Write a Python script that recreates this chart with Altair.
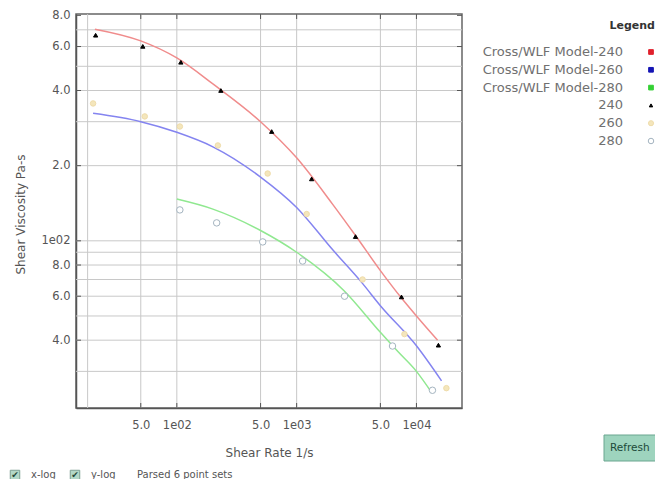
import altair as alt
import pandas as pd

# ---------------- data ----------------
series_names = ["Cross/WLF Model-240", "Cross/WLF Model-260", "Cross/WLF Model-280", "240", "260", "280"]
model_names = series_names[:3]

# measured points (shear rate 1/s, viscosity Pa-s)
rate_240 = [21, 52, 108, 233, 619, 1334, 3100, 7500, 15250]
visc_240 = [666, 601, 519, 400, 274, 177, 104, 59.6, 38.2]
rate_260 = [20, 54, 106, 220, 573, 1212, 3550, 7940, 17780]
visc_260 = [355, 315, 287, 241, 186, 128, 70, 42.3, 25.7]
rate_280 = [106, 215, 521, 1122, 2512, 6310, 13600]
visc_280 = [133, 118, 99, 83, 60, 37.9, 25.2]

# fitted Cross/WLF model curves
model_rate_240 = [20.7, 50, 100, 200, 500, 1000, 2000, 3100, 5000, 7500, 10000, 15000]
model_visc_240 = [704, 632, 540, 425, 300, 215, 140, 105, 76, 59, 50, 40]
model_rate_260 = [20, 50, 100, 200, 500, 1000, 2000, 3500, 5000, 10000, 16200]
model_visc_260 = [324, 300, 272, 238, 180, 136, 92, 68, 55, 38, 27.5]
model_rate_280 = [100, 200, 500, 1000, 2500, 5000, 7000, 10000, 13300]
model_visc_280 = [147, 134, 110, 90, 63, 43, 36, 30, 24.8]

# axes
x_tick_values = [50, 100, 500, 1000, 5000, 10000]
x_tick_labels = ["5.0", "1e02", "5.0", "1e03", "5.0", "1e04"]
y_tick_values = [40, 60, 80, 100, 200, 400, 600, 800]
y_tick_labels = ["4.0", "6.0", "8.0", "1e02", "2.0", "4.0", "6.0", "8.0"]
x_grid = [18, 50, 100, 500, 1000, 5000, 10000]
y_grid = [30, 40, 50, 60, 70, 80, 90, 100, 200, 300, 400, 500, 600, 700]
x_domain = [14.4, 24000]
y_domain = [21.4, 810]

# styles
line_colors = ["#f08c8c", "#8484f0", "#90e890"]
legend_fill = ["#e0202c", "#1414b4", "#34d034", "#000000", "#f4e6bc", "#ffffff"]
legend_stroke = ["#e0202c", "#1414b4", "#34d034", "#000000", "#efdcaa", "#a4b4c0"]
legend_shapes = ["square", "square", "square", "triangle-up", "circle", "circle"]
legend_sizes = [22, 22, 22, 12, 26, 30]
point_sizes = {"240": 18, "260": 30, "280": 42}

W, H = 386, 394
FONT = "DejaVu Sans"


def label_expr(vals, labels):
    return "".join(f"abs(datum.value - {v}) < 0.001 ? '{l}' : " for v, l in zip(vals, labels)) + "''"


x_axis = alt.Axis(
    title="Shear Rate  1/s", values=x_tick_values, labelExpr=label_expr(x_tick_values, x_tick_labels),
    grid=False, ticks=False, tickSize=0, labelPadding=11, labelOverlap=False, labelFlush=False,
    labelFont=FONT, labelFontSize=11.5, labelColor="#555",
    titleFont=FONT, titleFontSize=12, titleFontWeight="normal", titleColor="#555",
    titleY=44, titleBaseline="middle", domainColor="#555", domainWidth=1.5,
)
y_axis = alt.Axis(
    title="Shear Viscosity Pa-s", values=y_tick_values, labelExpr=label_expr(y_tick_values, y_tick_labels),
    grid=False, ticks=False, tickSize=0, labelPadding=6, labelOverlap=False, labelFlush=False,
    labelFont=FONT, labelFontSize=11.5, labelColor="#555",
    titleFont=FONT, titleFontSize=12, titleFontWeight="normal", titleColor="#555",
    titleX=-56, titleY=200, titleBaseline="middle", domainColor="#555", domainWidth=1.5,
)


def X():
    return alt.X("rate:Q", scale=alt.Scale(type="log", domain=x_domain, nice=False), axis=x_axis)


def Y():
    return alt.Y("visc:Q", scale=alt.Scale(type="log", domain=y_domain, nice=False), axis=y_axis)


# ---------------- layers ----------------
grid_x = alt.Chart(pd.DataFrame({"rate": x_grid})).mark_rule(color="#c8c8c8", strokeWidth=1).encode(x=X())
grid_y = alt.Chart(pd.DataFrame({"visc": y_grid})).mark_rule(color="#c8c8c8", strokeWidth=1).encode(y=Y())

model_df = pd.concat([
    pd.DataFrame({"rate": r, "visc": v, "model": m})
    for r, v, m in [(model_rate_240, model_visc_240, model_names[0]),
                    (model_rate_260, model_visc_260, model_names[1]),
                    (model_rate_280, model_visc_280, model_names[2])]
])
lines = alt.Chart(model_df).mark_line(strokeWidth=1.5, interpolate="monotone").encode(
    x=X(), y=Y(),
    color=alt.Color("model:N", scale=alt.Scale(domain=model_names, range=line_colors), legend=None),
)

point_layers = []
for name, r, v in [("240", rate_240, visc_240), ("260", rate_260, visc_260), ("280", rate_280, visc_280)]:
    i = series_names.index(name)
    df = pd.DataFrame({"rate": r, "visc": v, "series": name})
    point_layers.append(
        alt.Chart(df).mark_point(
            size=point_sizes[name], shape=legend_shapes[i], fill=legend_fill[i],
            stroke=legend_stroke[i], strokeWidth=1, opacity=1, filled=False,
        ).encode(x=X(), y=Y())
    )

ytick_df = pd.DataFrame({"visc": y_tick_values})
xtick_df = pd.DataFrame({"rate": x_tick_values})
tick_left = alt.Chart(ytick_df).mark_rule(color="#555").encode(y=Y(), x=alt.value(0), x2=alt.value(5))
tick_right = alt.Chart(ytick_df).mark_rule(color="#555").encode(y=Y(), x=alt.value(W - 5), x2=alt.value(W))
tick_bottom = alt.Chart(xtick_df).mark_rule(color="#555").encode(x=X(), y=alt.value(H - 5), y2=alt.value(H))
tick_top = alt.Chart(xtick_df).mark_rule(color="#555").encode(x=X(), y=alt.value(0), y2=alt.value(5))


def ui_text(txt, px, py, color="#555", size=10, weight="normal", align="left"):
    return alt.Chart(pd.DataFrame({"t": [txt]})).mark_text(
        align=align, baseline="middle", font=FONT, fontSize=size, color=color, fontWeight=weight
    ).encode(text="t:N", x=alt.value(px), y=alt.value(py))


# ---------------- legend (built from the series lists) ----------------
legend_layers = [ui_text("Legend", 579, 12, color="#333", size=11, weight="bold", align="right")]
for i, name in enumerate(series_names):
    ry = 38 + i * 17.8
    legend_layers.append(ui_text(name, 547, ry, color="#707070", size=13, align="right"))
    legend_layers.append(
        alt.Chart(pd.DataFrame({"t": [name]})).mark_point(
            shape=legend_shapes[i], size=legend_sizes[i], fill=legend_fill[i], stroke=legend_stroke[i],
            strokeWidth=1, opacity=1, filled=False,
        ).encode(x=alt.value(575), y=alt.value(ry))
    )


def checkbox(px, py):
    box = alt.Chart(pd.DataFrame({"t": ["x"]})).mark_point(
        shape="square", size=90, filled=True, fill="#94c8b0", stroke="#4a7a68", strokeWidth=1
    ).encode(x=alt.value(px), y=alt.value(py))
    chk = alt.Chart(pd.DataFrame({"t": ["\u2714"]})).mark_text(
        align="center", baseline="middle", font=FONT, fontSize=9, color="#24483a"
    ).encode(text="t:N", x=alt.value(px), y=alt.value(py))
    return [box, chk]


ui_y = 461
controls = checkbox(-61, ui_y) + [ui_text("x-log", -45, ui_y)] + checkbox(-1, ui_y) + [
    ui_text("y-log", 15, ui_y), ui_text("Parsed 6 point sets", 61, ui_y)]

button = alt.Chart(pd.DataFrame({"t": ["Refresh"]})).mark_rect(
    fill="#9ed4be", stroke="#6aa690", strokeWidth=1
).encode(x=alt.value(528), x2=alt.value(610), y=alt.value(421), y2=alt.value(447))
button_text = ui_text("Refresh", 534, 434, color="#1d4a3a", size=10.5)

chart = alt.layer(
    grid_x, grid_y, lines, *point_layers, tick_left, tick_right, tick_bottom, tick_top,
    *legend_layers, *controls, button, button_text,
).properties(
    width=W, height=H,
    autosize=alt.AutoSizeParams(type="none"),
    padding={"left": 68, "top": 6, "right": 193, "bottom": 71},
).configure_view(stroke="#666", strokeWidth=1.5)

chart.save("out.html", embed_options={"renderer": "svg", "actions": False})
